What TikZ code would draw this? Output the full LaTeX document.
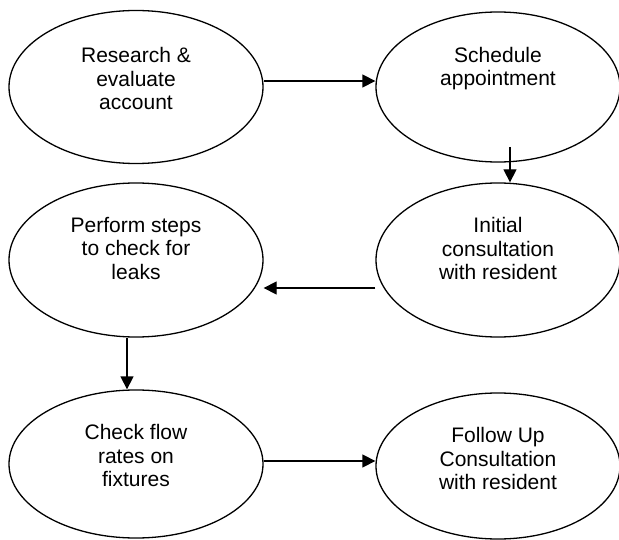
\documentclass[tikz,border=0pt]{standalone}
\usepackage{fontspec}
\setmainfont{Liberation Sans}
\usetikzlibrary{shapes.geometric,arrows.meta}
\begin{document}
\begin{tikzpicture}[x=1pt,y=-1pt,
  stage/.style={ellipse,draw=black,line width=1.3pt,inner sep=0pt,fill=white},
  caption/.style={align=center,inner sep=0pt,font=\fontsize{21}{23.7}\selectfont},
  flow/.style={line width=1.3pt,-{Triangle[length=13pt,width=13pt]}}]
  % canvas
  \fill[white] (0,0) rectangle (619,540);
  \useasboundingbox (0,0) rectangle (619,540);

  % process stages
  \node[stage,minimum width=254pt,minimum height=153pt] (research) at (136,87) {};
  \node[stage,minimum width=244pt,minimum height=150pt] (sched) at (498,87) {};
  \node[stage,minimum width=254pt,minimum height=154pt] (perf) at (136,260) {};
  \node[stage,minimum width=244pt,minimum height=154pt] (init) at (498,260) {};
  \node[stage,minimum width=254pt,minimum height=148pt] (check) at (136,464) {};
  \node[stage,minimum width=244pt,minimum height=146pt] (follow) at (498,466) {};

  % stage texts
  \node[caption] (researchtxt) at (136,78.5) {Research \&\\evaluate\\account};
  \node[caption] (schedtxt) at (498,68.5) {Schedule\\appointment};
  \node[caption] (perftxt) at (136,248.5) {Perform steps\\to check for\\leaks};
  \node[caption] (inittxt) at (498,248.5) {Initial\\consultation\\with resident};
  \node[caption] (checktxt) at (136,455.5) {Check flow\\rates on\\fixtures};
  \node[caption] (followtxt) at (498,458.5) {Follow Up\\Consultation\\with resident};

  % connectors
  \coordinate (schedout) at (510,147);
  \draw[flow] ([yshift=6pt]research.east) -- ([yshift=6pt]research.east -| sched.west);
  \draw[flow] (schedout) -- (schedout |- init.north);
  \draw[flow] ([yshift=-28pt]init.west) -- ([yshift=-28pt]perf.east);
  \draw[flow] ([xshift=-9pt]perf.south) -- ([xshift=-9pt]check.north);
  \draw[flow] ([yshift=3pt]check.east) -- ([yshift=3pt]check.east -| follow.west);
\end{tikzpicture}
\end{document}
